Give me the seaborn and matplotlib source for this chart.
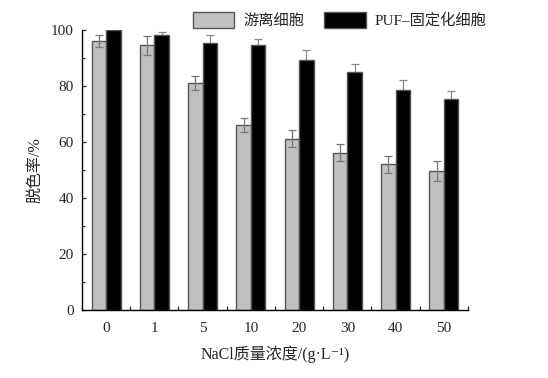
import numpy as np
import pandas as pd
import matplotlib
matplotlib.use("Agg")
import matplotlib.pyplot as plt
import seaborn as sns
from matplotlib.ticker import MultipleLocator, FixedLocator
from matplotlib.patches import Patch

# data
nacl = ["0", "1", "5", "10", "20", "30", "40", "50"]
free_cells = [96.2, 94.6, 81.0, 66.0, 61.2, 56.2, 52.0, 49.5]
free_err = [2.1, 3.4, 2.4, 2.4, 3.0, 3.0, 2.9, 3.6]
puf_cells = [100.0, 98.2, 95.5, 94.5, 89.2, 85.0, 78.7, 75.2]
puf_err = [0.8, 1.0, 2.6, 2.3, 3.6, 2.9, 3.3, 2.9]
series = ["游离细胞", "PUF–固定化细胞"]

df = pd.DataFrame({
    "NaCl": nacl * 2,
    "rate": free_cells + puf_cells,
    "err": free_err + puf_err,
    "cell": [series[0]] * len(nacl) + [series[1]] * len(nacl),
})

sns.set_style("ticks")
plt.rcParams["font.family"] = ["Liberation Serif", "Noto Sans CJK SC", "DejaVu Sans"]

fig = plt.figure(figsize=(5.48, 3.78), dpi=100)
ax = fig.add_axes([0.1496, 0.1799, 0.7044, 0.7407])

sns.barplot(data=df, x="NaCl", y="rate", hue="cell", hue_order=series,
            palette=["#c0c0c0", "#000000"], width=0.6, dodge=True,
            errorbar=None, edgecolor="#555555", linewidth=1.0, ax=ax,
            legend=False, zorder=2)

# error bars: grey series on top, black series behind its bars
x = np.arange(len(nacl))
ax.errorbar(x - 0.15, free_cells, yerr=free_err, fmt="none", ecolor="#777777",
            elinewidth=0.9, capsize=3, capthick=0.9, zorder=3)
ax.errorbar(x + 0.15, puf_cells, yerr=puf_err, fmt="none", ecolor="#888888",
            elinewidth=0.9, capsize=3, capthick=0.9, zorder=1)

ax.set_xlim(-0.5, 7.5)
ax.set_ylim(0, 100)
ax.yaxis.set_major_locator(MultipleLocator(20))
ax.yaxis.set_minor_locator(MultipleLocator(10))
ax.xaxis.set_minor_locator(FixedLocator(np.arange(0.5, 8, 1)))
ax.tick_params(axis="y", which="major", direction="in", length=3, width=0.9,
               labelsize=11, pad=6)
ax.tick_params(axis="y", which="minor", direction="in", length=2, width=0.9)
ax.tick_params(axis="x", which="major", length=0, labelsize=11, pad=9)
ax.tick_params(axis="x", which="minor", direction="in", length=3, width=0.9)

for s in ["top", "right"]:
    ax.spines[s].set_visible(False)
for s in ["left", "bottom"]:
    ax.spines[s].set_linewidth(1.0)
    ax.spines[s].set_color("black")

ax.set_xlabel("NaCl质量浓度/(g·L⁻¹)", fontsize=11.5, labelpad=7)
ax.set_ylabel("脱色率/%", fontsize=11.5, labelpad=5)

handles = [Patch(facecolor="#c0c0c0", edgecolor="#555555"),
           Patch(facecolor="#000000", edgecolor="#555555")]
fig.legend(handles, series, loc="center", bbox_to_anchor=(0.62, 0.947),
           ncol=2, frameon=False, fontsize=11, handlelength=2.7,
           handleheight=1.3, columnspacing=1.3, handletextpad=0.6)

fig.savefig("out.png", dpi=100)
